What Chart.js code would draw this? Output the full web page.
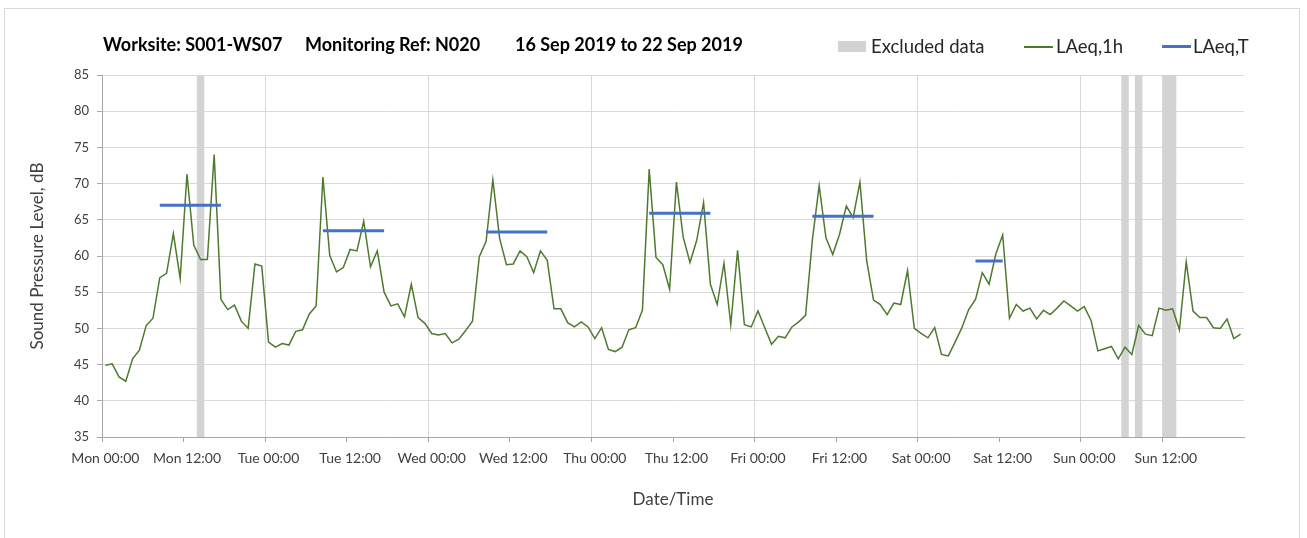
<!DOCTYPE html>
<html><head><meta charset="utf-8">
<script src="https://cdn.jsdelivr.net/npm/chart.js@4.4.1/dist/chart.umd.min.js"></script>
<style>
html,body{margin:0;padding:0;background:#fff;}
#wrap{position:relative;width:1307px;height:538px;overflow:hidden;font-family:Lato,"Open Sans",sans-serif;}
#frame{position:absolute;left:4px;top:8px;width:1296px;height:560px;border:1px solid #d9d9d9;box-sizing:border-box;}
canvas{position:absolute;left:0;top:0;}
.t{position:absolute;top:33px;font-weight:bold;font-size:18px;color:#000;white-space:pre;line-height:22px;}
.lg{position:absolute;top:35px;font-size:18.5px;color:#262626;line-height:22px;white-space:pre;}
.sw{position:absolute;}
</style></head>
<body><div id="wrap"><div id="frame"></div>
<canvas id="c" width="1307" height="538"></canvas>
<div class="t" style="left:103px">Worksite: S001-WS07</div>
<div class="t" style="left:305px">Monitoring Ref: N020</div>
<div class="t" style="left:515px">16 Sep 2019 to 22 Sep 2019</div>
<div class="sw" style="left:838px;top:41px;width:28px;height:11px;background:#d3d3d3"></div>
<div class="lg" style="left:871px">Excluded data</div>
<div class="sw" style="left:1024px;top:46px;width:29px;height:2px;background:#4e7a2e"></div>
<div class="lg" style="left:1056px">LAeq,1h</div>
<div class="sw" style="left:1162px;top:45px;width:29px;height:3px;background:#4472c4"></div>
<div class="lg" style="left:1193px">LAeq,T</div>
</div>
<script>
const days = ['Mon','Tue','Wed','Thu','Fri','Sat','Sun'];
const tickLabels = ['Mon 00:00','Mon 12:00','Tue 00:00','Tue 12:00','Wed 00:00','Wed 12:00','Thu 00:00','Thu 12:00','Fri 00:00','Fri 12:00','Sat 00:00','Sat 12:00','Sun 00:00','Sun 12:00'];
const laeq1h = [
 44.9,45.1,43.3,42.7,45.8,47.0,50.4,51.4,57.0,57.6,63.1,56.9,71.3,61.5,59.5,59.5,74.0,54.0,52.6,53.2,51.0,50.0,58.9,58.6,
 48.1,47.4,47.9,47.7,49.6,49.8,52.0,53.1,70.9,60.1,57.8,58.4,60.9,60.7,64.8,58.5,60.7,55.0,53.1,53.4,51.6,56.1,51.5,50.7,
 49.3,49.1,49.3,48.0,48.5,49.7,51.0,59.9,62.0,70.5,62.4,58.8,58.9,60.7,59.9,57.7,60.7,59.4,52.7,52.7,50.8,50.2,50.9,50.2,
 48.6,50.1,47.1,46.8,47.4,49.8,50.1,52.5,72.0,59.8,58.8,55.4,70.2,62.6,59.1,62.2,67.4,56.1,53.3,59.0,50.5,60.8,50.5,50.2,
 52.4,50.1,47.8,48.9,48.7,50.2,50.9,51.8,62.2,69.7,62.5,60.2,63.0,66.9,65.3,70.2,59.3,53.9,53.3,51.9,53.5,53.3,58.0,50.0,
 49.3,48.7,50.1,46.4,46.2,48.1,50.1,52.6,54.0,57.7,56.1,60.3,62.9,51.4,53.3,52.4,52.8,51.3,52.5,51.9,52.8,53.8,53.1,52.4,
 53.0,51.1,46.9,47.2,47.5,45.8,47.4,46.4,50.4,49.2,49.0,52.8,52.5,52.7,49.8,59.2,52.4,51.5,51.5,50.1,50.0,51.3,48.6,49.2
];
const excludedHours = [14,150,152,156,157];
const periodStart = [8,32,56,80,104,128];
const periodEnd = [17,41,65,89,113,132];
const periodLAeqT = [67.0,63.5,63.3,65.9,65.5,59.3];

const hourLabels = laeq1h.map((_, i) => days[Math.floor(i/24)] + ' ' + String(i%24).padStart(2,'0') + ':00');
const excludedData = laeq1h.map((_, i) => excludedHours.includes(i) ? 85 : null);
const laeqTData = laeq1h.map((_, i) => {
  for (let k = 0; k < periodStart.length; k++) if (i >= periodStart[k] && i <= periodEnd[k]) return periodLAeqT[k];
  return null;
});

const axisGrey = '#a6a6a6', gridGrey = '#d9d9d9', txt = '#404040';
new Chart(document.getElementById('c'), {
  data: {
    labels: hourLabels,
    datasets: [
      {type:'bar', label:'Excluded data', data: excludedData, backgroundColor:'#d3d3d3', barPercentage:1, categoryPercentage:1, order:3},
      {type:'line', label:'LAeq,1h', data: laeq1h, borderColor:'#4e7a2e', borderWidth:1.5, pointRadius:0, tension:0, order:2},
      {type:'line', label:'LAeq,T', data: laeqTData, borderColor:'#4472c4', borderWidth:3, pointRadius:0, spanGaps:false, order:1}
    ]
  },
  options: {
    responsive:false, animation:false, devicePixelRatio:1,
    layout:{padding:{left:0, top:75, right:63, bottom:0}},
    plugins:{legend:{display:false}, tooltip:{enabled:false}, title:{display:false}},
    scales:{
      x:{
        type:'category', offset:true,
        grid:{offset:true, color:c => c.index % 24 === 0 ? gridGrey : 'rgba(0,0,0,0)', tickColor:c => c.index % 12 === 0 ? axisGrey : 'rgba(0,0,0,0)', tickLength:5, drawTicks:true},
        border:{color:axisGrey},
        ticks:{autoSkip:false, maxRotation:0, minRotation:0, padding:8, color:txt, font:{family:'Lato', size:14},
          callback:(v, i) => i % 12 === 0 ? tickLabels[i/12] : ''},
        title:{display:true, text:'Date/Time', color:txt, font:{family:'Lato', size:17}, padding:{top:4, bottom:28}},
        afterFit:s => { s.height = 101; }
      },
      y:{
        min:35, max:85,
        grid:{color:gridGrey, tickColor:axisGrey, tickLength:5},
        border:{color:axisGrey},
        ticks:{stepSize:5, padding:8, color:txt, font:{family:'Lato', size:13}},
        title:{display:true, text:'Sound Pressure Level, dB', color:txt, font:{family:'Lato', size:17}, padding:{top:27, bottom:4}},
        afterFit:s => { s.width = 102; }
      }
    }
  }
});
</script>
</body></html>
